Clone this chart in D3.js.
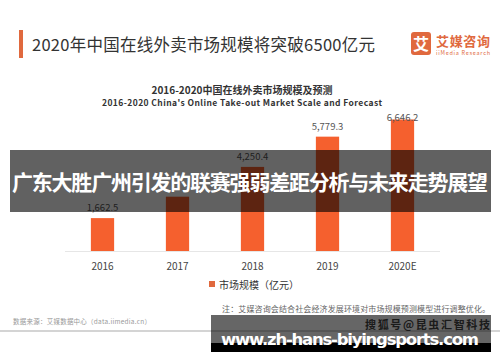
<!DOCTYPE html>
<html>
<head>
<meta charset="utf-8">
<script src="https://cdn.jsdelivr.net/npm/d3@7"></script>
<style>
  body { margin: 0; background: #fff; }
  svg { display: block; font-family: "Noto Sans CJK SC", "Noto Sans", sans-serif; }
</style>
</head>
<body>
<div class="chart"></div>
<script>
var years = ["2016", "2017", "2018", "2019", "2020E"];
var scale = [1662.5, 2745.0, 4250.4, 5779.3, 6646.2];
// 2017 label is hidden under the banner in the picture
var labels = ["1,662.5", "", "4,250.4", "5,779.3", "6,646.2"];

var svg = d3.select(".chart").append("svg")
    .attr("width", 500)
    .attr("height", 362);

var orange = "#f5602e";

// header
svg.append("rect").attr("x", 19).attr("y", 30).attr("width", 4).attr("height", 28).attr("fill", "#e0693e");
svg.append("text")
    .attr("x", 32).attr("y", 51)
    .attr("font-size", 16.5)
    .attr("fill", "#333")
    .attr("textLength", 343)
    .text("2020年中国在线外卖市场规模将突破6500亿元");

// logo
svg.append("rect").attr("x", 411).attr("y", 32).attr("width", 20).attr("height", 23).attr("rx", 3).attr("fill", "#e0693e");
svg.append("text").attr("x", 421).attr("y", 49.5).attr("text-anchor", "middle")
    .attr("font-size", 16).attr("font-weight", "bold").attr("fill", "#fff").text("艾");
svg.append("text").attr("x", 436).attr("y", 46).attr("font-size", 13).attr("font-weight", "bold")
    .attr("fill", "#e0693e").attr("textLength", 54).text("艾媒咨询");
svg.append("text").attr("x", 436).attr("y", 55).attr("font-size", 5.5)
    .attr("fill", "#e0693e").attr("textLength", 54).text("iiMedia Research");

// chart titles
svg.append("text").attr("x", 242).attr("y", 94).attr("text-anchor", "middle")
    .attr("font-size", 10).attr("font-weight", "bold").attr("fill", "#333")
    .text("2016-2020中国在线外卖市场规模及预测");
svg.append("text").attr("x", 242).attr("y", 106).attr("text-anchor", "middle")
    .attr("font-size", 8.5).attr("font-weight", "bold").attr("fill", "#333")
    .attr("textLength", 280)
    .text("2016-2020 China's Online Take-out Market Scale and Forecast");

var x = d3.scaleBand()
    .domain(years)
    .range([65, 440])
    .paddingInner(0.69)
    .paddingOuter(0.345);

var y = d3.scaleLinear()
    .domain([0, 6646.2])
    .range([251, 119.5]);

svg.append("line").attr("x1", 65).attr("x2", 440).attr("y1", 251.5).attr("y2", 251.5)
    .attr("stroke", "#e6e6e6");

svg.selectAll(".bar")
    .data(scale)
    .enter().append("rect")
        .attr("class", "bar")
        .attr("x", (d, i) => x(years[i]))
        .attr("y", d => y(d))
        .attr("width", x.bandwidth())
        .attr("height", d => y(0) - y(d))
        .attr("fill", orange);

svg.selectAll(".val")
    .data(scale.filter((d, i) => labels[i] != ""))
    .enter().append("text")
        .attr("class", "val")
        .attr("x", d => x(years[scale.indexOf(d)]) + x.bandwidth() / 2)
        .attr("y", d => Math.max(y(d) - 7, 121))
        .attr("text-anchor", "middle")
        .attr("font-size", 9.5)
        .attr("fill", "#555")
        .text(d => labels[scale.indexOf(d)]);

var xAxis = svg.append("g")
    .attr("transform", "translate(0,251)")
    .call(d3.axisBottom(x).tickSize(0).tickPadding(12));
xAxis.select(".domain").remove();
xAxis.selectAll("text")
    .attr("font-size", 10)
    .attr("fill", "#444")
    .attr("font-family", "'Noto Sans CJK SC', sans-serif");

// legend
svg.append("rect").attr("x", 209).attr("y", 281).attr("width", 6).attr("height", 6).attr("fill", "#e0693e");
svg.append("text").attr("x", 219).attr("y", 288.5).attr("font-size", 10).attr("fill", "#333")
    .text("市场规模（亿元）");

// notes
svg.append("text").attr("x", 222).attr("y", 312).attr("font-size", 8).attr("fill", "#666")
    .attr("textLength", 268)
    .text("注：艾媒咨询会结合社会经济发展环境对市场规模预测模型进行调整优化。");
svg.append("text").attr("x", 13).attr("y", 324).attr("font-size", 6.5).attr("fill", "#999")
    .attr("textLength", 138)
    .text("数据来源：艾媒数据中心（data.iimedia.cn）");
svg.append("line").attr("x1", 0).attr("x2", 500).attr("y1", 331).attr("y2", 331)
    .attr("stroke", "#aaa").attr("stroke-width", 1.2);
svg.append("text").attr("x", 490).attr("y", 328.5).attr("text-anchor", "end")
    .attr("font-size", 11).attr("font-weight", "bold").attr("fill", "#444")
    .attr("textLength", 125)
    .text("搜狐号@昆虫汇智科技");

// overlay bands
svg.append("rect").attr("x", 10).attr("y", 150).attr("width", 481).attr("height", 62)
    .attr("fill", "rgba(0,0,0,0.62)");
svg.append("text").attr("x", 12).attr("y", 190)
    .attr("font-size", 21).attr("font-weight", "bold").attr("fill", "#fff")
    .attr("textLength", 476)
    .text("广东大胜广州引发的联赛强弱差距分析与未来走势展望");

svg.append("rect").attr("x", 211).attr("y", 315).attr("width", 280).attr("height", 37)
    .attr("fill", "rgba(0,0,0,0.6)");
svg.append("rect").attr("x", 211).attr("y", 343).attr("width", 280).attr("height", 9)
    .attr("fill", "#000");
svg.append("text").attr("x", 221).attr("y", 345)
    .attr("font-size", 16.5).attr("font-weight", "bold").attr("fill", "#fff")
    .attr("font-family", "'DejaVu Sans', sans-serif")
    .attr("textLength", 258)
    .text("www.zh-hans-biyingsports.com");
</script>
</body>
</html>
